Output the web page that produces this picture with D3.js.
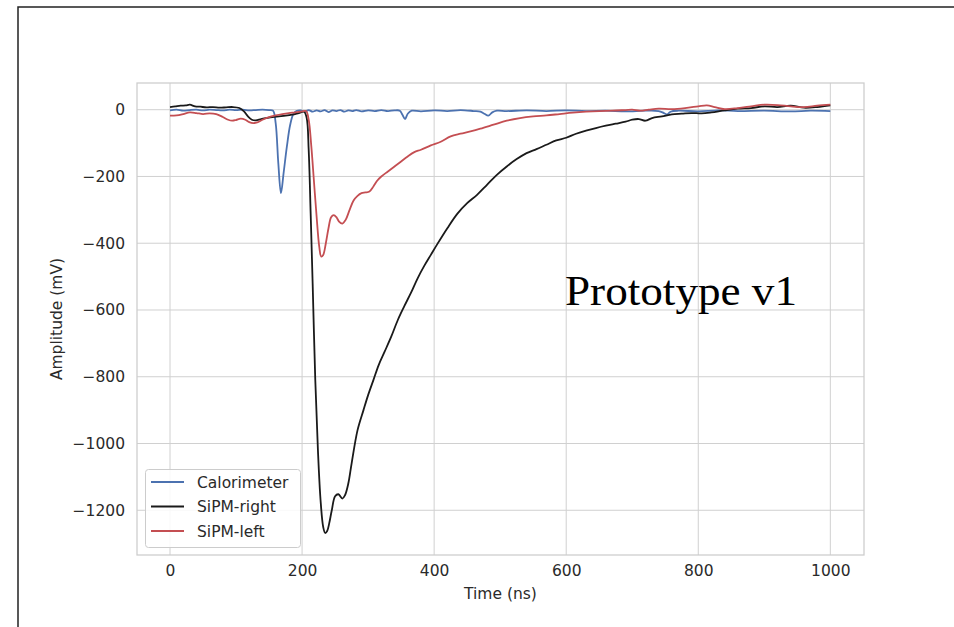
<!DOCTYPE html>
<html><head><meta charset="utf-8">
<script src="https://cdn.jsdelivr.net/npm/d3@7"></script>
<style>
html,body{margin:0;padding:0;background:#fff;}
svg{display:block;}
text{font-family:"DejaVu Sans",sans-serif;}
</style></head>
<body>
<svg id="chart" width="954" height="627"></svg>
<script>
// ---------- DATA ----------
const seriesNames = ["Calorimeter", "SiPM-right", "SiPM-left"];
const xTicks = [0, 200, 400, 600, 800, 1000];
const yTicks = [0, -200, -400, -600, -800, -1000, -1200];

const calTime = [0,10,20,30,40,50,60,70,80,90,100,110,120,130,140,150,156,160,164,168,172,177,182,187,192,198,204,210,216,222,228,234,240,246,252,258,264,270,276,282,290,300,310,320,330,340,348,352,356,360,366,380,400,420,440,460,470,476,482,488,495,510,540,570,600,630,660,690,720,740,748,753,758,770,800,830,860,900,940,970,1000];
const calAmp  = [-2,0,-3,-1,0,-2,0,-1,-2,0,-1,0,-2,-1,0,-1,-3,-40,-160,-250,-190,-110,-45,-12,-3,-2,-6,-1,-6,-2,-5,-1,-7,-2,-4,-1,-6,-2,-4,-1,-5,-2,-4,-1,-4,-2,-3,-15,-28,-12,-3,-5,-2,-4,-1,-4,-6,-12,-18,-8,-3,-4,-2,-4,-2,-4,-3,-5,-3,-4,-10,-14,-6,-3,-5,-2,-4,-3,-5,-3,-4];

const rightTime = [0,8,16,24,30,38,46,55,65,75,85,95,105,112,118,124,130,138,146,155,165,175,185,195,203,207,210,213,216,220,224,228,232,235,238,241,245,250,255,261,265,270,275,284,293,300,308,316,325,335,345,355,365,375,385,395,405,420,435,450,465,480,495,510,525,540,555,570,585,600,615,630,645,660,675,690,700,710,720,730,745,760,775,790,805,820,840,860,880,900,920,940,960,980,1000];
const rightAmp  = [8,10,12,13,15,10,9,7,8,6,7,8,5,-5,-20,-30,-32,-28,-25,-22,-20,-18,-15,-10,-6,-25,-120,-311,-520,-810,-1020,-1170,-1250,-1268,-1262,-1240,-1200,-1158,-1152,-1165,-1155,-1120,-1060,-960,-900,-855,-810,-765,-725,-680,-630,-588,-548,-505,-468,-435,-402,-355,-312,-280,-255,-225,-195,-170,-148,-130,-118,-105,-92,-84,-72,-63,-55,-48,-42,-36,-30,-28,-33,-25,-20,-14,-12,-10,-11,-8,-2,3,5,10,8,12,6,8,13];

const leftTime = [0,10,20,30,40,50,60,70,80,88,94,100,107,114,120,126,132,140,150,160,170,180,190,200,206,210,214,218,222,226,229,232,236,240,244,248,252,256,261,266,272,278,284,290,296,302,308,314,320,330,340,350,360,370,380,395,410,425,440,455,470,490,510,530,550,570,590,610,630,650,670,690,700,712,725,740,760,780,800,813,825,840,860,880,900,920,940,960,980,1000];
const leftAmp  = [-18,-17,-13,-8,-10,-13,-11,-13,-22,-30,-33,-31,-27,-30,-37,-40,-38,-30,-22,-17,-13,-10,-8,-5,-4,-30,-110,-215,-320,-410,-440,-435,-400,-355,-322,-316,-322,-335,-341,-330,-300,-272,-258,-250,-248,-245,-230,-212,-200,-185,-170,-155,-140,-127,-120,-107,-96,-80,-72,-65,-57,-45,-33,-25,-20,-17,-13,-9,-6,-4,-3,-1,0,-3,0,3,2,5,10,13,8,2,5,10,15,14,10,8,12,15];

const seriesColors = ["#4c72b0", "#1a1a1a", "#c44e52"];

// ---------- LAYOUT ----------
const svg = d3.select("#chart");
const plot = {left: 137, right: 864, top: 83, bottom: 555};
const x = d3.scaleLinear().domain([-50, 1051]).range([plot.left, plot.right]);
const y = d3.scaleLinear().domain([-1334, 80]).range([plot.bottom, plot.top]);

// figure frame (top and left edges)
svg.append("path").attr("d", "M18,627 L18,7 L954,7")
  .attr("fill", "none").attr("stroke", "#222").attr("stroke-width", 1.5);

// grid
const g = svg.append("g");
g.selectAll(".gx").data(xTicks).join("line")
  .attr("x1", d => x(d)).attr("x2", d => x(d))
  .attr("y1", plot.top).attr("y2", plot.bottom)
  .attr("stroke", "#d0d0d0").attr("stroke-width", 1);
g.selectAll(".gy").data(yTicks).join("line")
  .attr("x1", plot.left).attr("x2", plot.right)
  .attr("y1", d => y(d)).attr("y2", d => y(d))
  .attr("stroke", "#d0d0d0").attr("stroke-width", 1);

// axes frame
g.append("rect").attr("x", plot.left).attr("y", plot.top)
  .attr("width", plot.right - plot.left).attr("height", plot.bottom - plot.top)
  .attr("fill", "none").attr("stroke", "#cccccc").attr("stroke-width", 1.25);

// tick labels via d3 axes
const xAxis = d3.axisBottom(x).tickValues(xTicks).tickSize(0).tickPadding(10).tickFormat(d3.format("d"));
const xg = svg.append("g").attr("transform", `translate(0,${plot.bottom})`).call(xAxis);
xg.select(".domain").remove();
xg.selectAll("text").attr("font-size", "15.5px").attr("fill", "#2a2a2a").attr("font-family", "DejaVu Sans");

const fmtY = d => (d < 0 ? "\u2212" + Math.abs(d) : String(d));
const yAxis = d3.axisLeft(y).tickValues(yTicks).tickSize(0).tickPadding(12).tickFormat(fmtY);
const yg = svg.append("g").attr("transform", `translate(${plot.left},0)`).call(yAxis);
yg.select(".domain").remove();
yg.selectAll("text").attr("font-size", "15.5px").attr("fill", "#2a2a2a").attr("font-family", "DejaVu Sans");

// axis titles
svg.append("text").attr("x", (plot.left + plot.right) / 2).attr("y", 599)
  .attr("text-anchor", "middle").attr("font-size", "15.5px").attr("fill", "#2a2a2a").text("Time (ns)");
svg.append("text").attr("transform", `translate(62,${(plot.top + plot.bottom) / 2}) rotate(-90)`)
  .attr("text-anchor", "middle").attr("font-size", "15.5px").attr("fill", "#2a2a2a").text("Amplitude (mV)");

// lines
svg.append("clipPath").attr("id", "clip").append("rect")
  .attr("x", plot.left).attr("y", plot.top).attr("width", plot.right - plot.left).attr("height", plot.bottom - plot.top);
const lineGen = d3.line().x(d => x(d[0])).y(d => y(d[1])).curve(d3.curveCatmullRom.alpha(0.5));
const seriesData = [
  d3.zip(calTime, calAmp),
  d3.zip(rightTime, rightAmp),
  d3.zip(leftTime, leftAmp)
];
const lg = svg.append("g").attr("clip-path", "url(#clip)");
seriesData.forEach((data, i) => {
  lg.append("path").datum(data).attr("d", lineGen)
    .attr("fill", "none").attr("stroke", seriesColors[i]).attr("stroke-width", 1.8)
    .attr("stroke-linejoin", "round");
});

// legend
const leg = svg.append("g");
leg.append("rect").attr("x", 145.5).attr("y", 469.5).attr("width", 155).attr("height", 78)
  .attr("rx", 3).attr("fill", "#fff").attr("fill-opacity", 0.85).attr("stroke", "#cccccc").attr("stroke-width", 1);
seriesNames.forEach((name, i) => {
  const yy = 482 + i * 24.5;
  leg.append("line").attr("x1", 151).attr("x2", 184).attr("y1", yy).attr("y2", yy)
    .attr("stroke", seriesColors[i]).attr("stroke-width", 1.8);
  leg.append("text").attr("x", 197).attr("y", yy + 5.5).attr("font-size", "15.5px").attr("fill", "#2a2a2a").text(name);
});

// annotation
svg.append("text").attr("x", 565).attr("y", 305)
  .style("font-family", "'Liberation Serif', 'Noto Serif', serif")
  .attr("font-size", "42px").attr("fill", "#000")
  .attr("textLength", 232).attr("lengthAdjust", "spacingAndGlyphs")
  .text("Prototype v1");
</script>
</body></html>
